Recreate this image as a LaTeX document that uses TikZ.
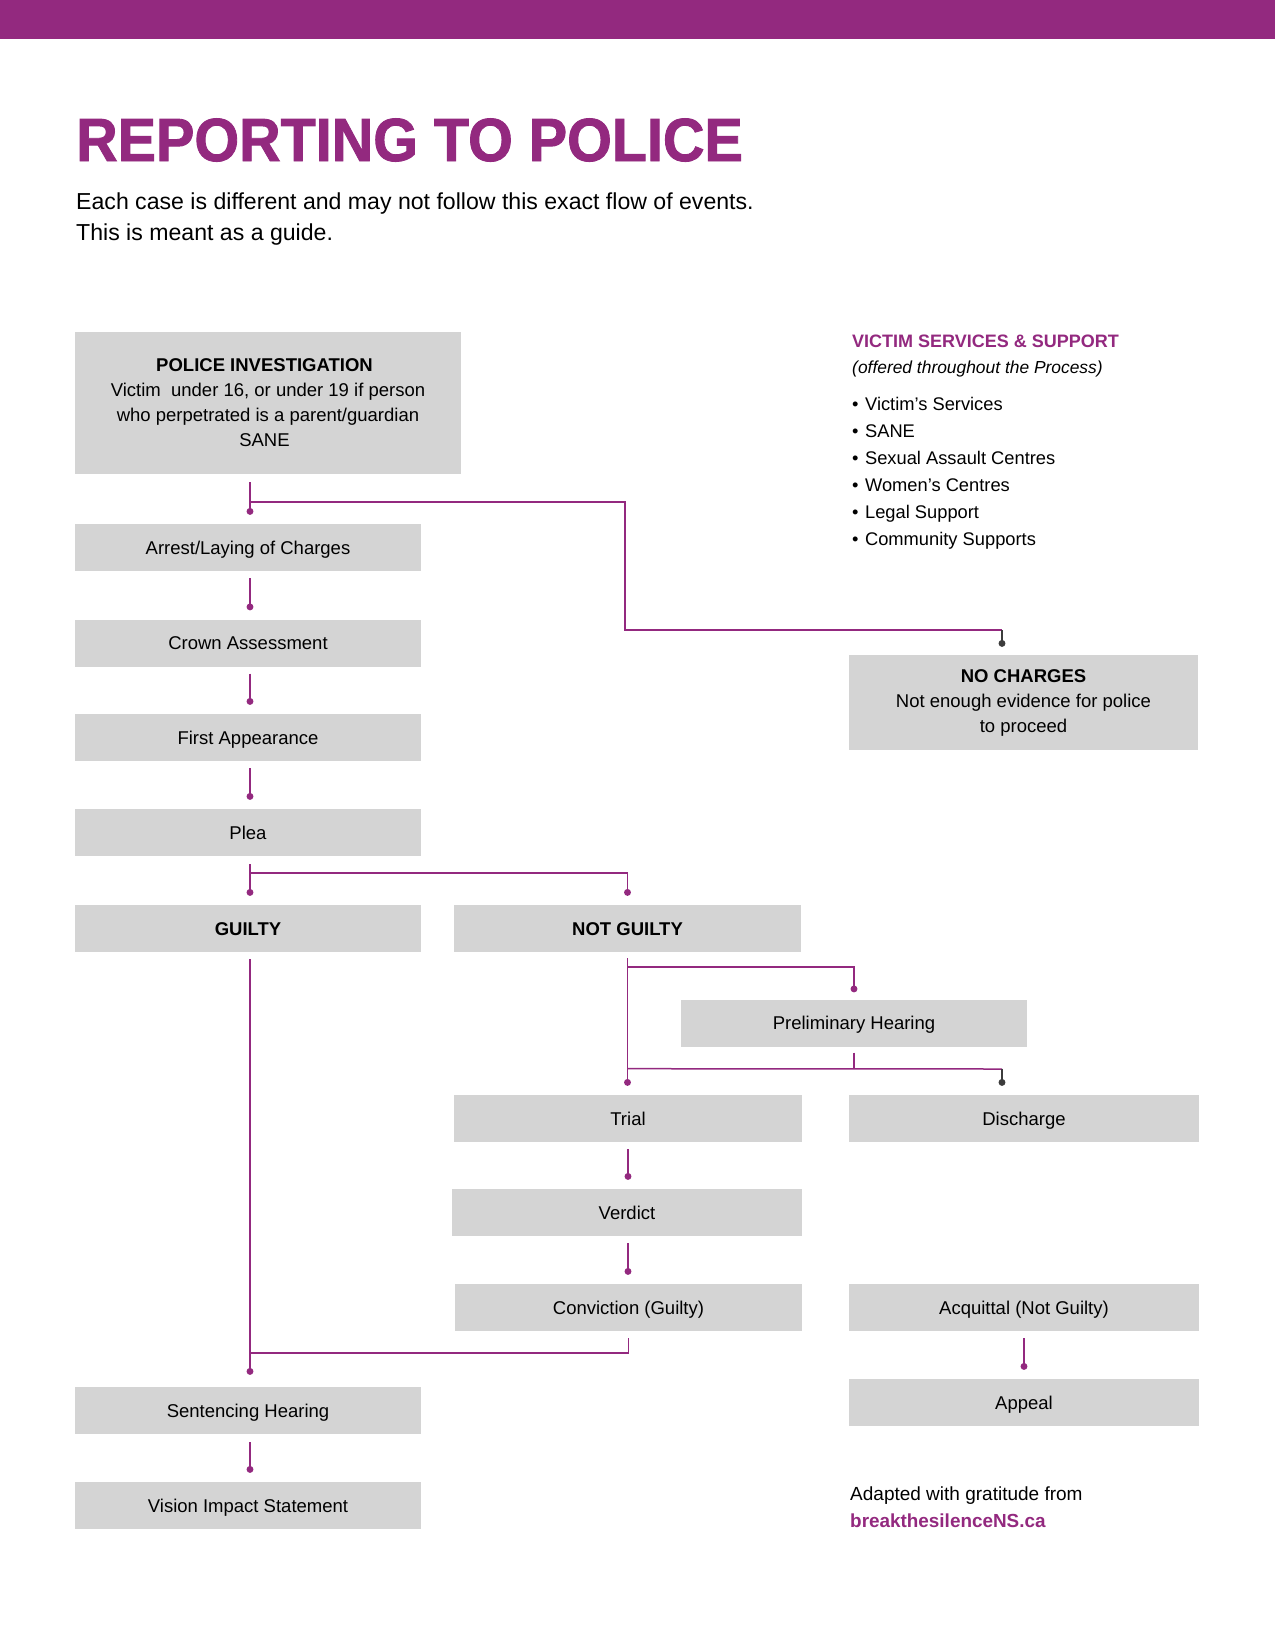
\documentclass[tikz,border=0pt]{standalone}
\usepackage{fontspec}
\setmainfont{Liberation Sans}
\newfontfamily\heavyfont{Liberation Sans}[UprightFont={* Bold}, FakeBold=1.5]
\usetikzlibrary{arrows.meta,calc}
\definecolor{brandpurple}{HTML}{93297F}
\definecolor{boxgray}{HTML}{D4D4D4}
\definecolor{stubgray}{HTML}{3C3C3C}
\begin{document}
\begin{tikzpicture}[x=1pt,y=-1pt,
  box/.style={fill=boxgray, draw=none, minimum height=47pt, inner sep=0pt, align=center, font=\fontsize{18.5}{25}\selectfont},
  onebox/.style={box, text height=15pt, text depth=2pt},
  conn/.style={draw=brandpurple, line width=1.5pt, -{Circle[length=6.8pt,width=6.8pt]}},
  link/.style={draw=brandpurple, line width=1.5pt},
  stub/.style={draw=stubgray, line width=1.5pt, -{Circle[length=6.8pt,width=6.8pt]}},
  txt/.style={anchor=base west, inner sep=0pt, font=\fontsize{18}{25}\selectfont}
]
\useasboundingbox (0,0) rectangle (1275,1650);
\fill[white] (0,0) rectangle (1275,1650);
\node[fill=brandpurple, minimum width=1275pt, minimum height=39pt, inner sep=0pt, anchor=north west] (topbar) at (0,0) {};

% header texts
\node[anchor=base west, inner sep=0pt, text=brandpurple, font=\fontsize{57.5}{60}\heavyfont] (title) at (76,161) {\scalebox{1}[1.06]{REPORTING TO POLICE}};
\node[anchor=base west, inner sep=0pt, font=\fontsize{23.1}{30}\selectfont] (sub1) at (76,209) {Each case is different and may not follow this exact flow of events.};
\node[anchor=base west, inner sep=0pt, font=\fontsize{23.1}{30}\selectfont] (sub2) at (76,240) {This is meant as a guide.};

% victim services
\node[txt, text=brandpurple, font=\fontsize{18}{25}\bfseries] (vshead) at (852,347) {VICTIM SERVICES \& SUPPORT};
\node[txt, font=\fontsize{17.4}{25}\itshape] (vssub) at (852,373) {(offered throughout the Process)};
\foreach \t [count=\i from 0] in {Victim’s Services, SANE, Sexual Assault Centres, Women’s Centres, Legal Support, Community Supports}
  \node[txt, font=\fontsize{18.3}{25}\selectfont] (vs\i) at (852,410+27*\i) {•\hspace{6.5pt}\t};

% footer
\node[txt, font=\fontsize{19}{25}\selectfont] (adapted) at (850,1500) {Adapted with gratitude from};
\node[txt, text=brandpurple, font=\fontsize{18.9}{25}\bfseries] (site) at (850,1527) {breakthesilenceNS.ca};

% boxes
\node[box, minimum width=386pt, minimum height=142pt] (police) at (268,403) {\textbf{POLICE INVESTIGATION}\hspace*{7pt}\\Victim~ under 16, or under 19 if person\hspace*{7pt}\\who perpetrated is a parent/guardian\hspace*{7pt}\\SANE\hspace*{7pt}};
\node[onebox, minimum width=346pt] (arrest) at (248,547.5) {Arrest/Laying of Charges};
\node[onebox, minimum width=346pt] (crown) at (248,643) {Crown Assessment};
\node[onebox, minimum width=346pt] (first) at (248,737.5) {First Appearance};
\node[onebox, minimum width=346pt] (plea) at (248,832.5) {Plea};
\node[onebox, minimum width=346pt] (guilty) at (248,928.5) {\textbf{GUILTY}};
\node[onebox, minimum width=347pt] (notguilty) at (627.5,928.5) {\textbf{NOT GUILTY}};
\node[onebox, minimum width=346pt] (prelim) at (854,1023) {Preliminary Hearing};
\node[onebox, minimum width=348pt] (trial) at (628,1118.5) {Trial};
\node[onebox, minimum width=350pt] (discharge) at (1024,1118.5) {Discharge};
\node[onebox, minimum width=350pt] (verdict) at (627,1212.5) {Verdict};
\node[onebox, minimum width=347pt] (conviction) at (628.5,1307.5) {Conviction (Guilty)};
\node[onebox, minimum width=350pt] (acquittal) at (1024,1307.5) {Acquittal (Not Guilty)};
\node[onebox, minimum width=350pt] (appeal) at (1024,1402.5) {Appeal};
\node[onebox, minimum width=346pt] (sentencing) at (248,1410.5) {Sentencing Hearing};
\node[onebox, minimum width=346pt] (vision) at (248,1505.5) {Vision Impact Statement};
\node[box, minimum width=349pt, minimum height=95pt] (nocharges) at (1023.5,702.5) {\textbf{NO CHARGES}\\Not enough evidence for police\\to proceed};

% connectors
\coordinate (pj) at ($(police.south -| arrest.north)+(2,28)$);
\coordinate (nbend) at (625,630);
\coordinate (ncin) at (1002,630);
\draw[conn] ($(police.south -| arrest.north)+(2,8)$) -- ($(arrest.north)+(2,-9)$);
\draw[link] (pj) -| (nbend) -- (ncin);
\draw[stub] (ncin) -- ($(nocharges.north -| ncin)+(0,-8)$);

\foreach \a/\b in {arrest/crown, crown/first, first/plea}
  \draw[conn] ($(\a.south)+(2,7)$) -- ($(\b.north)+(2,-9)$);

\coordinate (plj) at ($(plea.south)+(2,17)$);
\draw[conn] ($(plea.south)+(2,8)$) -- ($(guilty.north)+(2,-9)$);
\draw[conn] (plj) -| ($(notguilty.north)+(0,-9)$);

\coordinate (ngj) at ($(notguilty.south)+(0,15)$);
\draw[conn] ($(notguilty.south)+(0,6)$) -- ($(trial.north -| notguilty.south)+(0,-9)$);
\draw[conn] (ngj) -| ($(prelim.north)+(0,-7)$);

\coordinate (prj) at ($(prelim.south)+(0,22)$);
\coordinate (dcin) at (1002,1069);
\draw[link] ($(prelim.south)+(0,6)$) -- (prj);
\draw[link] (prj -| notguilty.south) -- (dcin);
\draw[stub] (dcin) -- ($(discharge.north -| dcin)+(0,-9)$);

\draw[conn] ($(trial.south)+(0,7)$) -- ($(verdict.north -| trial.south)+(0,-9)$);
\draw[conn] ($(verdict.south -| trial.south)+(0,7)$) -- ($(conviction.north -| trial.south)+(0,-9)$);

\coordinate (cvj) at ($(conviction.south)+(0,22)$);
\coordinate (gcol) at ($(guilty.south)+(2,0)$);
\draw[conn] ($(guilty.south)+(2,7)$) -- ($(sentencing.north)+(2,-12)$);
\draw[link] ($(conviction.south)+(0,7)$) -- (cvj) -- (cvj -| gcol);
\draw[conn] ($(sentencing.south)+(2,8)$) -- ($(vision.north)+(2,-9)$);
\draw[conn] ($(acquittal.south)+(0,7)$) -- ($(appeal.north)+(0,-9)$);
\end{tikzpicture}
\end{document}
